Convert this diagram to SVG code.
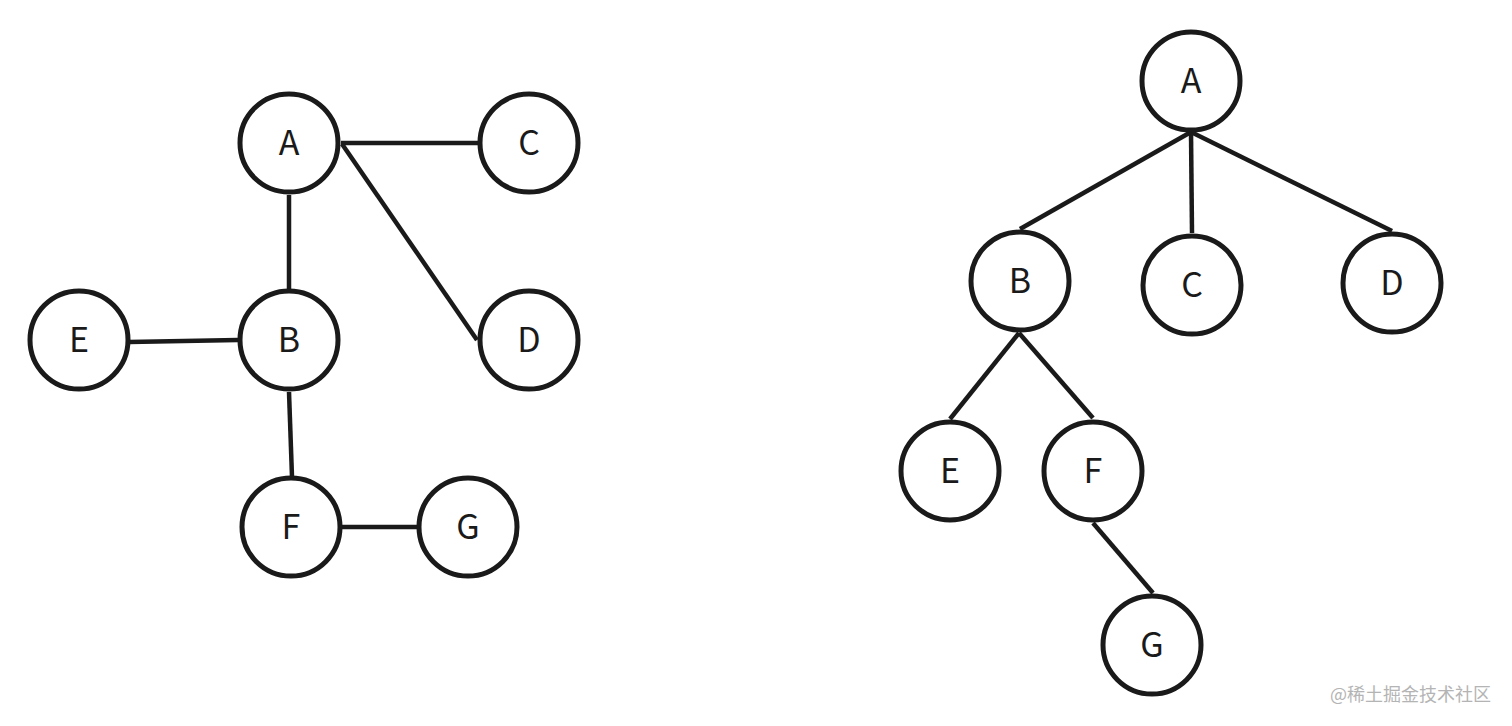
<svg xmlns="http://www.w3.org/2000/svg" width="1512" height="726" viewBox="0 0 1512 726">
<style>
.n circle{fill:#fff;stroke:#1a1a1a;stroke-width:5}
.n text{font-family:"Noto Sans CJK SC","Noto Sans",sans-serif;font-size:34px;fill:#1a1a1a;text-anchor:middle}
#edges line{stroke:#1a1a1a;stroke-width:4.5;stroke-linecap:butt}
.wm{font-family:"Noto Sans CJK SC","Noto Sans",sans-serif;font-size:18px;fill:#b4b4b4}
</style>
<rect width="1512" height="726" fill="#fff"/>
<g id="edges">
<line x1="341" y1="143" x2="479" y2="143"/>
<line x1="342" y1="144" x2="477" y2="340"/>
<line x1="289" y1="195" x2="289" y2="290"/>
<line x1="129" y1="342" x2="238" y2="340"/>
<line x1="289" y1="392" x2="292" y2="477"/>
<line x1="342" y1="527" x2="418" y2="527"/>
<line x1="1191" y1="132" x2="1020" y2="229"/>
<line x1="1191" y1="132" x2="1192" y2="233"/>
<line x1="1191" y1="132" x2="1392" y2="231"/>
<line x1="1019" y1="333" x2="950" y2="419"/>
<line x1="1019" y1="333" x2="1093" y2="418"/>
<line x1="1093" y1="523" x2="1153" y2="593"/>
</g>
<g id="L-A" class="n"><circle cx="289" cy="143" r="49"/><text x="289" y="155">A</text></g>
<g id="L-C" class="n"><circle cx="529" cy="143" r="49"/><text x="529" y="155">C</text></g>
<g id="L-B" class="n"><circle cx="289" cy="340" r="49"/><text x="289" y="352">B</text></g>
<g id="L-D" class="n"><circle cx="529" cy="340" r="49"/><text x="529" y="352">D</text></g>
<g id="L-E" class="n"><circle cx="79" cy="340" r="49"/><text x="79" y="352">E</text></g>
<g id="L-F" class="n"><circle cx="291" cy="527" r="49"/><text x="291" y="539">F</text></g>
<g id="L-G" class="n"><circle cx="468" cy="527" r="49"/><text x="468" y="539">G</text></g>
<g id="R-A" class="n"><circle cx="1191" cy="81" r="49"/><text x="1191" y="93">A</text></g>
<g id="R-B" class="n"><circle cx="1020" cy="281" r="49"/><text x="1020" y="293">B</text></g>
<g id="R-C" class="n"><circle cx="1192" cy="285" r="49"/><text x="1192" y="297">C</text></g>
<g id="R-D" class="n"><circle cx="1392" cy="283" r="49"/><text x="1392" y="295">D</text></g>
<g id="R-E" class="n"><circle cx="950" cy="471" r="49"/><text x="950" y="483">E</text></g>
<g id="R-F" class="n"><circle cx="1093" cy="471" r="49"/><text x="1093" y="483">F</text></g>
<g id="R-G" class="n"><circle cx="1152" cy="645" r="49"/><text x="1152" y="657">G</text></g>
<text class="wm" x="1330" y="701">@稀土掘金技术社区</text>
</svg>
